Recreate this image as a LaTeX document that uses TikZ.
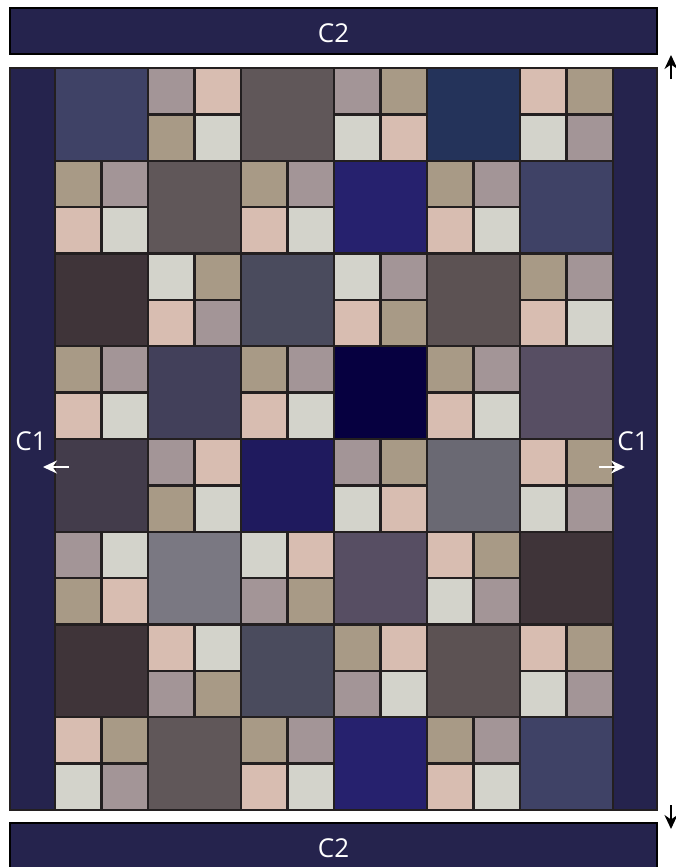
\documentclass[tikz,border=0pt]{standalone}
\usepackage{fontspec}
\setmainfont{Open Sans}
\usetikzlibrary{arrows.meta}
\definecolor{qborder}{HTML}{25234D}
\definecolor{qline}{HTML}{231F20}
\definecolor{qp}{HTML}{D8BDB1}
\definecolor{qt}{HTML}{A89A86}
\definecolor{qm}{HTML}{A39597}
\definecolor{ql}{HTML}{D3D3CB}
\definecolor{sA}{HTML}{3F4266}
\definecolor{sB}{HTML}{605759}
\definecolor{sC}{HTML}{24335A}
\definecolor{sD}{HTML}{26216E}
\definecolor{sE}{HTML}{3F3439}
\definecolor{sF}{HTML}{4A4B5D}
\definecolor{sG}{HTML}{5C5253}
\definecolor{sH}{HTML}{42405A}
\definecolor{sI}{HTML}{060040}
\definecolor{sJ}{HTML}{574E63}
\definecolor{sK}{HTML}{433C4B}
\definecolor{sL}{HTML}{1F1A5E}
\definecolor{sM}{HTML}{6A6973}
\definecolor{sN}{HTML}{7A7882}
\tikzset{
  strip/.style={fill=qborder, draw=black, line width=2.2pt},
  patch/.style={draw=qline, line width=2.4pt},
  lbl/.style={text=white, font=\fontsize{26}{28}\selectfont, inner sep=0pt},
  cut/.style={-{Stealth[length=14pt,width=13pt]}, line width=2.4pt, shorten >=-2pt},
}
\begin{document}
\begin{tikzpicture}[x=1pt, y=-1pt]
  \useasboundingbox (0,0) rectangle (675,867);
  % top strip "C2"
  \draw[strip] (10,8) rectangle (657,54);
  \node[lbl] (c2top) at (333.5,33) {C2};
  % bottom strip "C2"
  \draw[strip] (10,823) rectangle (657,872);
  \node[lbl] (c2bot) at (333.5,848) {C2};
  % quilt body with side borders
  \draw[fill=qborder, draw=qline, line width=2.4pt] (10,68) rectangle (657,810);
  % big plain blocks: column/row/colour
  \foreach \c/\r/\col in {1/1/sA, 3/1/sB, 5/1/sC,
                          2/2/sB, 4/2/sD, 6/2/sA,
                          1/3/sE, 3/3/sF, 5/3/sG,
                          2/4/sH, 4/4/sI, 6/4/sJ,
                          1/5/sK, 3/5/sL, 5/5/sM,
                          2/6/sN, 4/6/sJ, 6/6/sE,
                          1/7/sE, 3/7/sF, 5/7/sG,
                          2/8/sB, 4/8/sD, 6/8/sA}
    \draw[patch, fill=\col] ({55+93*(\c-1)},{68+92.75*(\r-1)}) rectangle +(93,92.75);
  % four-patches: column/row/top left/top right/bottom left/bottom right
  \foreach \c/\r/\a/\b/\d/\e in {2/1/m/p/t/l, 4/1/m/t/l/p, 6/1/p/t/l/m,
                                 1/2/t/m/p/l, 3/2/t/m/p/l, 5/2/t/m/p/l,
                                 2/3/l/t/p/m, 4/3/l/m/p/t, 6/3/t/m/p/l,
                                 1/4/t/m/p/l, 3/4/t/m/p/l, 5/4/t/m/p/l,
                                 2/5/m/p/t/l, 4/5/m/t/l/p, 6/5/p/t/l/m,
                                 1/6/m/l/t/p, 3/6/l/p/m/t, 5/6/p/t/l/m,
                                 2/7/p/l/m/t, 4/7/t/p/m/l, 6/7/p/t/l/m,
                                 1/8/p/t/l/m, 3/8/t/m/p/l, 5/8/t/m/p/l}
  {
    \begin{scope}[shift={({55+93*(\c-1)},{68+92.75*(\r-1)})}]
      \draw[patch, fill=q\a] (0,0) rectangle (46.5,46.375);
      \draw[patch, fill=q\b] (46.5,0) rectangle (93,46.375);
      \draw[patch, fill=q\d] (0,46.375) rectangle (46.5,92.75);
      \draw[patch, fill=q\e] (46.5,46.375) rectangle (93,92.75);
    \end{scope}
  }
  % side labels "C1" with arrows
  \node[lbl] (c1left) at (31,441) {C1};
  \node[lbl] (c1right) at (633,441) {C1};
  \coordinate (lefttail) at (69,467);
  \coordinate (lefttip) at (45,467);
  \coordinate (righttail) at (599,467);
  \coordinate (righttip) at (623,467);
  \draw[cut, white] (lefttail) -- (lefttip);
  \draw[cut, white] (righttail) -- (righttip);
  % black arrows at the right edge
  \coordinate (uptail) at (671,79);
  \coordinate (uptip) at (671,57);
  \coordinate (downtail) at (671,805);
  \coordinate (downtip) at (671,827);
  \draw[cut, black] (uptail) -- (uptip);
  \draw[cut, black] (downtail) -- (downtip);
\end{tikzpicture}
\end{document}
